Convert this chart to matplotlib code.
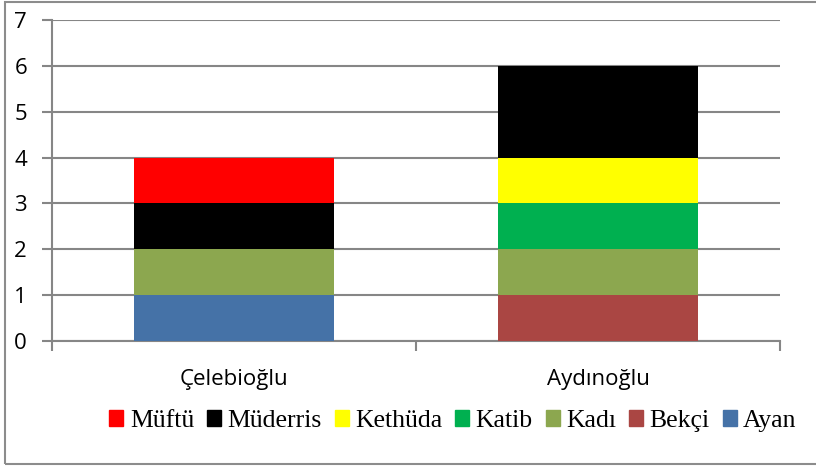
import matplotlib.pyplot as plt
import numpy as np
from matplotlib.patches import Rectangle, Patch

categories = ['Çelebioğlu', 'Aydınoğlu']
series = ['Ayan', 'Bekçi', 'Kadı', 'Katib', 'Kethüda', 'Müderris', 'Müftü']
values = {
    'Ayan':     [1, 0],
    'Bekçi':    [0, 1],
    'Kadı':     [1, 1],
    'Katib':    [0, 1],
    'Kethüda':  [0, 1],
    'Müderris': [1, 2],
    'Müftü':    [1, 0],
}
colors = {
    'Ayan': '#4572A7',
    'Bekçi': '#AA4643',
    'Kadı': '#8CA74F',
    'Katib': '#00B050',
    'Kethüda': '#FFFF00',
    'Müderris': '#000000',
    'Müftü': '#FF0000',
}

fig = plt.figure(figsize=(8.16, 4.68), dpi=100)
# outer chart frame
fig.patches.append(Rectangle((5 / 816, 4 / 468), 900 / 816, 462 / 468,
                             transform=fig.transFigure, fill=False,
                             ec='#8c8c8c', lw=1.5))

ax = fig.add_axes([52 / 816, 127 / 468, 728 / 816, 321 / 468])
x = np.arange(len(categories))
bottom = np.zeros(len(categories))
for name in series:
    v = np.array(values[name], dtype=float)
    ax.bar(x, v, 0.55, bottom=bottom, color=colors[name], zorder=3)
    bottom += v

ax.set_xlim(-0.5, len(categories) - 0.5)
ax.set_ylim(0, 7)
ax.set_yticks(range(8))
ax.yaxis.grid(True, color='#868686', lw=1.5, zorder=0)
for s in ['top', 'right']:
    ax.spines[s].set_visible(False)
for s in ['left', 'bottom']:
    ax.spines[s].set_color('#868686')
    ax.spines[s].set_linewidth(1.5)
ax.tick_params(axis='y', length=7, width=1.5, color='#868686',
               labelsize=16, pad=11)
ax.set_xticks(x)
ax.set_xticklabels(categories, fontsize=16)
ax.tick_params(axis='x', which='major', length=0, pad=20)
ax.set_xticks(np.arange(-0.5, len(categories)), minor=True)
ax.tick_params(axis='x', which='minor', length=7, width=1.5, color='#868686')
for lab in ax.get_xticklabels() + ax.get_yticklabels():
    lab.set_family('Open Sans')

handles = [Patch(color=colors[n], label=n) for n in reversed(series)]
fig.legend(handles=handles, loc='center', bbox_to_anchor=(453 / 816, 47 / 468),
           ncol=len(series), frameon=False,
           prop={'family': 'Liberation Serif', 'size': 18.5},
           handlelength=0.55, handleheight=0.6, handletextpad=0.25,
           columnspacing=0.5, borderpad=0)

fig.savefig('out.png', dpi=100)
